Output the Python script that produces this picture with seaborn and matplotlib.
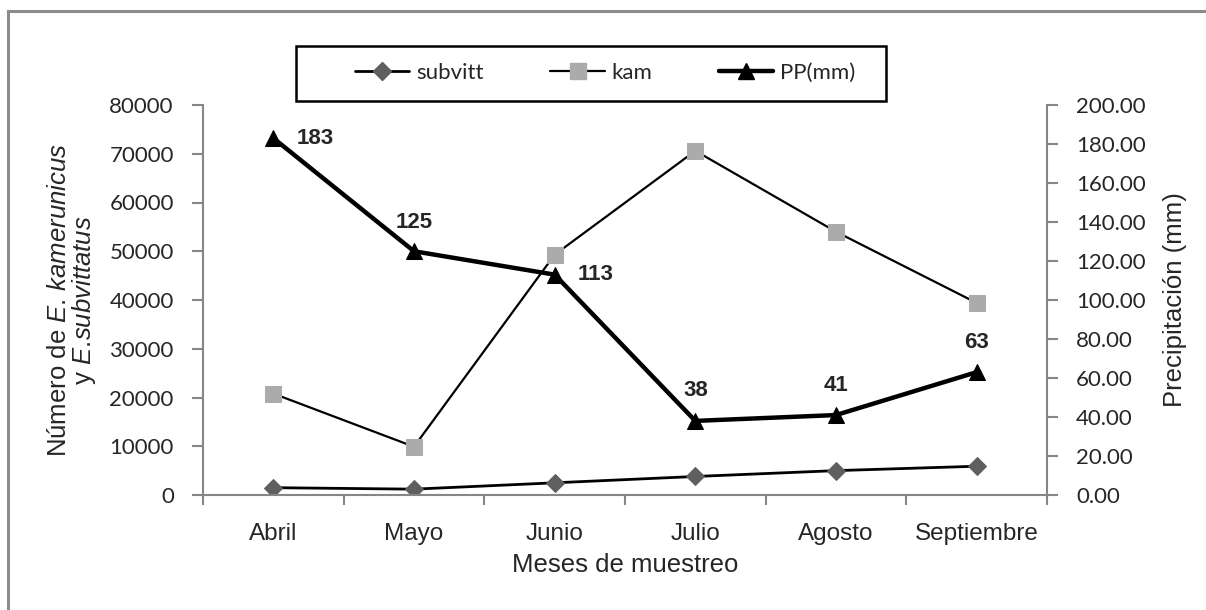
import matplotlib
matplotlib.use("Agg")
import matplotlib.pyplot as plt
from matplotlib.lines import Line2D
from matplotlib.patches import Rectangle
from matplotlib.ticker import FixedLocator, FuncFormatter
import seaborn as sns
import pandas as pd

# Monthly sampling data
meses = ["Abril", "Mayo", "Junio", "Julio", "Agosto", "Septiembre"]
subvitt = [1500, 1200, 2500, 3800, 5000, 5900]
kam = [20800, 9900, 49300, 70600, 54000, 39400]
pp_mm = [183, 125, 113, 38, 41, 63]

sns.set_theme(style="white")
plt.rcParams["font.family"] = ["Liberation Sans", "DejaVu Sans"]
plt.rcParams["mathtext.fontset"] = "custom"
plt.rcParams["mathtext.rm"] = "Liberation Sans"
plt.rcParams["mathtext.it"] = "Liberation Sans:italic"

num_font = ["Lato", "DejaVu Sans"]
month_font = ["Liberation Sans Narrow", "Liberation Sans"]
spine_gray = "#868686"
W, H = 1206, 610

df = pd.DataFrame({"mes": meses, "subvitt": subvitt, "kam": kam, "pp": pp_mm})

fig = plt.figure(figsize=(W / 100, H / 100), dpi=100)
ax = fig.add_axes([203 / W, 1 - 495 / H, (1047 - 203) / W, (495 - 105) / H])
ax2 = ax.twinx()

sns.lineplot(data=df, x="mes", y="subvitt", ax=ax, color="black", lw=2,
             marker="D", markersize=9, markerfacecolor="#5f5f5f",
             markeredgecolor="#5f5f5f", sort=False)
sns.lineplot(data=df, x="mes", y="kam", ax=ax, color="black", lw=1.6,
             marker="s", markersize=11, markerfacecolor="#ababab",
             markeredgecolor="#ababab", sort=False)
sns.lineplot(data=df, x="mes", y="pp", ax=ax2, color="black", lw=3.2,
             marker="^", markersize=11, markerfacecolor="black",
             markeredgecolor="black", sort=False)

# Value labels for precipitation (offsets in pixels)
offsets = [(23, 0, "left"), (0, 29, "center"), (23, 0, "left"),
           (0, 30, "center"), (0, 30, "center"), (0, 30, "center")]
for i, (v, (dx, dy, ha)) in enumerate(zip(pp_mm, offsets)):
    ax2.annotate(f"{v}", (i, v), xytext=(dx * 0.72, dy * 0.72),
                 textcoords="offset points", ha=ha, va="center",
                 fontsize=16, fontweight="bold",
                 family=["Liberation Sans", "DejaVu Sans"])

ax.set_xlim(-0.5, len(meses) - 0.5)
ax.set_ylim(0, 80000)
ax2.set_ylim(0, 200)
ax.set_yticks(range(0, 80001, 10000))
ax2.set_yticks(range(0, 201, 20))
ax2.yaxis.set_major_formatter(FuncFormatter(lambda v, p: f"{v:.2f}"))

for a in (ax, ax2):
    for s in a.spines.values():
        s.set_visible(False)
ax.spines["left"].set_visible(True)
ax.spines["bottom"].set_visible(True)
ax2.spines["right"].set_visible(True)
for s in (ax.spines["left"], ax.spines["bottom"], ax2.spines["right"]):
    s.set_color(spine_gray)
    s.set_linewidth(1.5)

ax.xaxis.set_minor_locator(FixedLocator([i - 0.5 for i in range(len(meses) + 1)]))
ax.tick_params(axis="x", which="major", length=0, pad=20)
ax.tick_params(axis="x", which="minor", length=7, width=1.5, color=spine_gray,
               direction="out", bottom=True)
ax.tick_params(axis="y", which="major", length=8, width=1.5, color=spine_gray,
               direction="out", left=True, pad=13)
ax2.tick_params(axis="y", which="major", length=8, width=1.5, color=spine_gray,
                direction="out", right=True, pad=13)

for lab in ax.get_xticklabels():
    lab.set_family(month_font)
    lab.set_fontsize(17.5)
for lab in ax.get_yticklabels() + ax2.get_yticklabels():
    lab.set_family(num_font)
    lab.set_fontsize(16)

ax.set_xlabel("Meses de muestreo", fontsize=18.5, labelpad=6)
ax.set_ylabel("Número de $\\it{E.\\,kamerunicus}$\ny $\\it{E.\\!subvittatus}$",
              fontsize=18.5, linespacing=0.95, labelpad=8)
ax2.set_ylabel("Precipitación (mm)", fontsize=18.5, labelpad=12)

handles = [
    Line2D([], [], color="black", lw=2, marker="D", markersize=9,
           markerfacecolor="#5f5f5f", markeredgecolor="#5f5f5f"),
    Line2D([], [], color="black", lw=1.6, marker="s", markersize=11,
           markerfacecolor="#ababab", markeredgecolor="#ababab"),
    Line2D([], [], color="black", lw=3.2, marker="^", markersize=11,
           markerfacecolor="black", markeredgecolor="black"),
]
leg = fig.legend(handles, ["subvitt", "kam", "PP(mm)"], ncol=3,
                 loc="center left", bbox_to_anchor=(355 / W, 1 - 73 / H),
                 frameon=False, handlelength=2.45, handletextpad=0.3,
                 columnspacing=3.0, borderpad=0, borderaxespad=0,
                 prop={"family": num_font, "size": 16})

# Legend box
fig.patches.append(Rectangle((296 / W, 1 - 101 / H), (886 - 296) / W, 55 / H,
                             transform=fig.transFigure, fill=False,
                             edgecolor="black", lw=1.8, zorder=5))

# Outer chart frame
fig.patches.append(Rectangle((8 / W, -0.2), 1.2, 1.2 - 11 / H,
                             transform=fig.transFigure, fill=False,
                             edgecolor="#8c8c8c", lw=2.2, zorder=0))

fig.savefig("out.png", dpi=100, facecolor="white")
